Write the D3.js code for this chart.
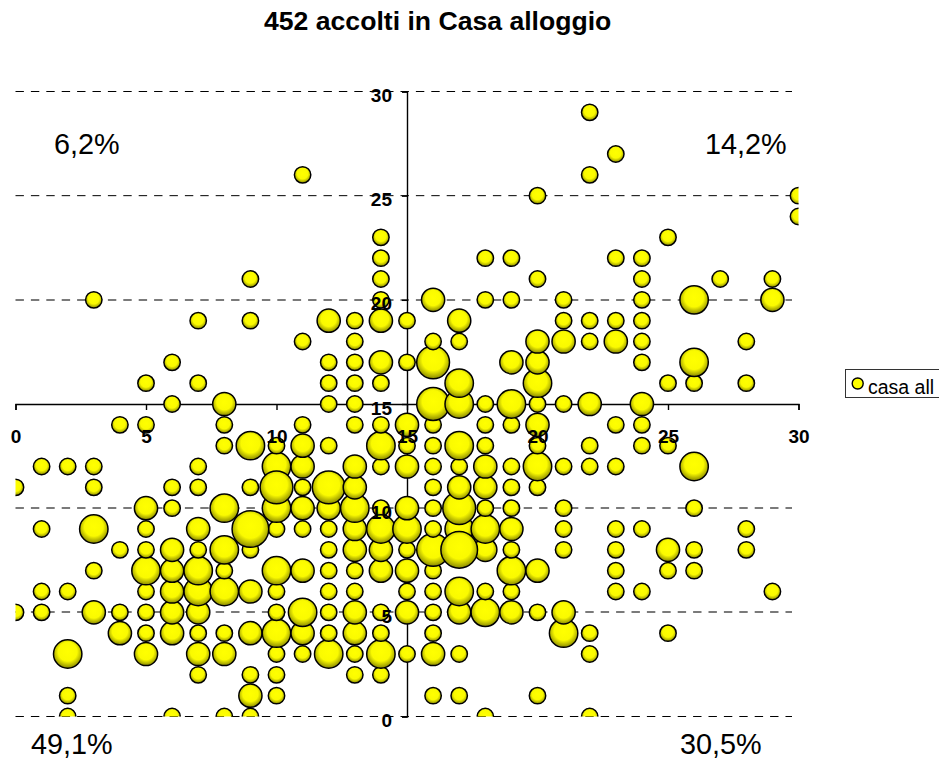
<!DOCTYPE html>
<html>
<head>
<meta charset="utf-8">
<script src="https://cdn.jsdelivr.net/npm/d3@7/dist/d3.min.js"></script>
<style>
html,body{margin:0;padding:0;background:#fff;overflow:hidden}
svg{display:block}
text{font-family:"Liberation Sans",Arial,sans-serif;fill:#000}
</style>
</head>
<body>
<svg id="chart" width="939" height="758"></svg>
<script>
// Each row: y value, x values and bubble sizes
const yRows = [0,1,2,3,4,5,6,7,8,9,10,11,12,13,14,15,16,17,18,19,20,21,22,23,24,25,26,27,29];
const xRows = [
 [2,6,8,9,18,22],
 [2,9,10,16,17,20],
 [7,9,10,13,14],
 [2,5,7,8,10,11,12,13,14,15,16,17,22],
 [4,5,6,7,8,9,10,11,12,13,14,16,21,22,25],
 [0,1,3,4,5,6,7,10,11,12,13,14,15,16,17,18,19,20,21],
 [1,2,5,6,7,8,9,10,12,13,15,16,17,18,19,23,24,29],
 [3,5,6,7,8,10,11,12,13,14,15,16,19,20,23,25,26],
 [4,5,6,7,8,9,12,13,14,15,16,17,18,19,21,23,25,26,28],
 [1,3,5,7,9,10,11,12,13,14,15,16,17,18,19,21,23,24,28],
 [5,6,8,10,11,12,13,14,15,16,17,18,19,21,26],
 [0,3,6,7,9,10,11,12,13,16,17,18,19,20],
 [1,2,3,7,10,11,13,14,15,16,17,18,19,20,21,22,23,26],
 [8,9,10,11,12,14,15,16,17,18,20,22,24,25],
 [4,5,8,11,13,14,15,16,18,19,20,23,24],
 [6,8,12,13,16,17,18,19,20,21,22,24],
 [5,7,12,13,14,17,20,25,26,28],
 [6,12,13,14,15,16,19,20,24,26],
 [11,13,16,17,20,21,22,23,24,28],
 [7,9,12,13,14,15,17,21,22,23,24],
 [3,14,16,18,19,21,24,26,29],
 [9,14,20,24,27,29],
 [14,18,19,23,24],
 [14,25],
 [30],
 [20,30],
 [11,22],
 [23],
 [22]
];
const sizeRows = [
 [1,1,1,1,1,1],
 [1,2,1,1,1,1],
 [1,1,1,1,1],
 [3,2,2,2,1,1,3,1,3,1,2,1,1],
 [2,1,2,1,1,2,3,2,1,2,1,1,3,1,1],
 [1,1,2,1,1,2,2,1,3,1,2,1,2,1,2,3,2,1,2],
 [1,1,1,2,3,3,2,1,1,1,1,1,3,1,1,1,1,1],
 [1,3,2,3,1,3,2,1,1,2,2,1,3,2,1,1,1],
 [1,1,2,1,3,1,1,2,2,1,4,5,2,1,1,1,2,1,1],
 [1,3,1,2,5,1,1,1,2,3,3,1,3,3,2,1,1,1,1],
 [2,1,3,3,2,2,3,1,2,1,4,1,1,1,1],
 [1,1,1,1,1,4,1,4,2,1,2,2,1,1],
 [1,1,1,1,3,2,2,1,2,1,1,2,1,3,1,1,1,3],
 [1,3,1,2,1,3,1,1,3,1,1,1,1,1],
 [1,1,1,1,1,1,2,1,1,1,2,1,1],
 [1,2,1,1,4,3,1,3,1,1,2,2],
 [1,1,1,1,1,3,3,1,1,1],
 [1,1,1,2,1,4,2,2,1,3],
 [1,1,1,1,2,2,1,2,1,1],
 [1,1,2,1,2,1,2,1,1,1,1],
 [1,1,2,1,1,1,1,3,2],
 [1,1,1,1,1,1],
 [1,1,1,1,1],
 [1,1],
 [1],
 [1,1],
 [1,1],
 [1],
 [1]
];
const xTickValues = [0,5,10,15,20,25,30];
const yTickValues = [0,5,10,15,20,25,30];
const quadrantLabels = ["6,2%","14,2%","49,1%","30,5%"];
const chartTitle = "452 accolti in Casa alloggio";
const legendLabel = "casa all";

const svg = d3.select("#chart");
const x = d3.scaleLinear().domain([0,30]).range([15.5,798.5]);
const y = d3.scaleLinear().domain([0,30]).range([716.5,91.5]);
const r = d3.scaleSqrt().domain([0,1]).range([0,8.2]);

const defs = svg.append("defs");
const grad = defs.append("radialGradient").attr("id","ball").attr("cx","50%").attr("cy","42%").attr("r","60%").attr("fx","50%").attr("fy","42%");
grad.append("stop").attr("offset","0%").attr("stop-color","#ffff00");
grad.append("stop").attr("offset","55%").attr("stop-color","#fafa00");
grad.append("stop").attr("offset","100%").attr("stop-color","#7f7f00");
defs.append("clipPath").attr("id","plot").append("rect")
  .attr("x",x(0)).attr("y",y(30)).attr("width",x(30)-x(0)).attr("height",y(0)-y(30));

// gridlines: lines falling between two pixel rows read as wider and grey
const softGrid = new Set([5,10,20]);
svg.append("g").selectAll("line").data(yTickValues.filter(d=>d!==15)).join("line")
  .attr("x1",x(0)).attr("x2",792)
  .attr("y1",d=>softGrid.has(d)?Math.round(y(d)):y(d))
  .attr("y2",d=>softGrid.has(d)?Math.round(y(d)):y(d))
  .attr("stroke",d=>softGrid.has(d)?"#7a7a7a":"#000")
  .attr("stroke-width",d=>softGrid.has(d)?2:1)
  .attr("stroke-dasharray","8.4,7");

// axes crossing at 15: lines go under the bubbles, labels over them
const xAxis = d3.axisBottom(x).tickValues(xTickValues).tickSize(6).tickPadding(19.5);
const yAxis = d3.axisLeft(y).tickValues(yTickValues).tickSize(5).tickPadding(10);
const xPos = `translate(0,${y(15)})`, yPos = `translate(${x(15)},0)`;
const lines = svg.append("g");
[[xAxis,xPos],[yAxis,yPos]].forEach(([a,t])=>{
  const g = lines.append("g").attr("transform",t).call(a);
  g.selectAll("text").remove();
  g.selectAll(".domain,line").attr("stroke","#000").attr("stroke-width",1.4);
});

// bubbles: later drawing depth is on top
const depthOverride = new Map([["14,10",8.5],["17,8",9.5],["9,9",9.6],["10,12",10.5]]);
const bubbles = yRows.flatMap((yv,i)=>xRows[i].map((xv,j)=>({x:xv,y:yv,s:sizeRows[i][j]})));
const depth = d => depthOverride.has(d.x+","+d.y) ? depthOverride.get(d.x+","+d.y) : d.y;
const ordered = d3.sort(bubbles,(a,b)=>d3.ascending(depth(a),depth(b)));
svg.append("g").attr("clip-path","url(#plot)").selectAll("circle").data(ordered).join("circle")
  .attr("cx",d=>x(d.x)).attr("cy",d=>y(d.y)).attr("r",d=>r(d.s))
  .attr("fill","url(#ball)").attr("stroke","#000").attr("stroke-width",1.5);

const labels = svg.append("g");
[[xAxis,xPos],[yAxis,yPos]].forEach(([a,t],i)=>{
  const g = labels.append("g").attr("transform",t).call(a);
  g.selectAll(".domain,line").remove();
  g.selectAll("text").attr("font-family","Liberation Sans").attr("font-weight","bold").attr("font-size",19).attr("fill","#000");
  if(i===1) g.selectAll("text").attr("dy","0.53em");
});

// title
svg.append("text").attr("x",437.7).attr("y",30).attr("text-anchor","middle")
  .attr("font-weight","bold").attr("font-size",26.6).text(chartTitle);

// quadrant percentages
const labelPos = [[54,153.5],[705,153.5],[31,753.5],[680,753.5]];
svg.append("g").selectAll("text").data(quadrantLabels).join("text")
  .attr("x",(d,i)=>labelPos[i][0]).attr("y",(d,i)=>labelPos[i][1])
  .attr("font-size",28.8).text(d=>d);

// legend
const lg = svg.append("g");
lg.append("rect").attr("x",845.5).attr("y",369.5).attr("width",100).attr("height",28)
  .attr("fill","#fff").attr("stroke","#333").attr("stroke-width",1);
lg.append("circle").attr("cx",857.7).attr("cy",383.5).attr("r",5.5)
  .attr("fill","#ffff00").attr("stroke","#000").attr("stroke-width",1.4);
lg.append("text").attr("x",868).attr("y",394).attr("font-size",19.5).text(legendLabel);
</script>
</body>
</html>
